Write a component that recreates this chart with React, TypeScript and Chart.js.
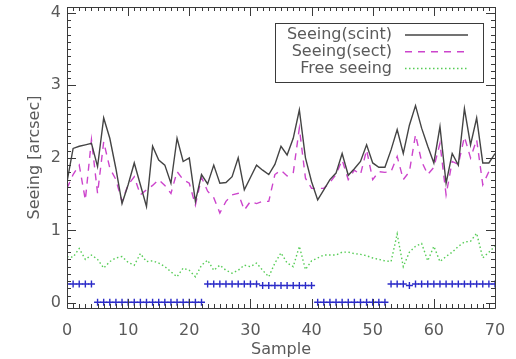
import React, { useEffect, useRef } from "react";
import { Chart, registerables } from "chart.js";

Chart.register(...registerables);

const sampleTicks = [0, 10, 20, 30, 40, 50, 60, 70];
const seeingTicks = [0, 1, 2, 3, 4];

const seeingScint = [
  1.67, 2.13, 2.16, 2.18, 2.2, 1.88, 2.55, 2.27, 1.85, 1.37,
  1.63, 1.93, 1.63, 1.33, 2.16, 1.97, 1.9, 1.65, 2.27, 1.95,
  2.0, 1.4, 1.77, 1.64, 1.9, 1.65, 1.66, 1.74, 2.0, 1.56,
  1.73, 1.9, 1.83, 1.77, 1.91, 2.16, 2.04, 2.27, 2.66, 2.0,
  1.67, 1.42, 1.56, 1.7, 1.79, 2.06, 1.76, 1.85, 1.95, 2.18,
  1.93, 1.87, 1.87, 2.11, 2.39, 2.06, 2.45, 2.72, 2.41, 2.16,
  1.93, 2.43, 1.65, 2.06, 1.9, 2.68, 2.18, 2.55, 1.93, 1.93,
  2.06,
];

const seeingSect = [
  1.58, 1.77, 1.9, 1.42, 2.25, 1.51, 2.22, 1.86, 1.7, 1.4,
  1.63, 1.74, 1.49, 1.56, 1.62, 1.7, 1.62, 1.51, 1.81, 1.7,
  1.65, 1.35, 1.73, 1.54, 1.45, 1.24, 1.4, 1.49, 1.51, 1.28,
  1.4, 1.37, 1.4, 1.4, 1.77, 1.83, 1.75, 1.79, 2.41, 1.72,
  1.58, 1.58, 1.58, 1.66, 1.77, 1.97, 1.7, 1.83, 1.77, 2.11,
  1.7, 1.81, 1.8, 1.81, 2.02, 1.7, 1.81, 2.32, 1.95, 1.77,
  1.87, 2.2, 1.49, 1.95, 1.91, 2.29, 2.0, 2.25, 1.63, 1.81,
  1.81,
];

const freeSeeing = [
  0.64, 0.63, 0.75, 0.6, 0.66, 0.6, 0.48, 0.57, 0.62, 0.64,
  0.56, 0.52, 0.68, 0.57, 0.58, 0.55, 0.5, 0.43, 0.36, 0.48,
  0.45, 0.36, 0.52, 0.59, 0.45, 0.52, 0.45, 0.41, 0.45, 0.52,
  0.5, 0.55, 0.45, 0.36, 0.55, 0.69, 0.55, 0.5, 0.78, 0.46,
  0.58, 0.62, 0.66, 0.66, 0.66, 0.7, 0.7, 0.68, 0.67, 0.65,
  0.62, 0.6, 0.58, 0.57, 0.95, 0.5, 0.7, 0.78, 0.82, 0.58,
  0.78, 0.57, 0.64, 0.7, 0.78, 0.84, 0.85, 0.96, 0.62, 0.7,
  0.78,
];

const flagLevel = [
  0.26, 0.26, 0.26, 0.26, 0.26, 0.01, 0.01, 0.01, 0.01, 0.01,
  0.01, 0.01, 0.01, 0.01, 0.01, 0.01, 0.01, 0.01, 0.01, 0.01,
  0.01, 0.01, 0.01, 0.26, 0.26, 0.26, 0.26, 0.26, 0.26, 0.26,
  0.26, 0.26, 0.24, 0.24, 0.24, 0.24, 0.24, 0.24, 0.24, 0.24,
  0.24, 0.01, 0.01, 0.01, 0.01, 0.01, 0.01, 0.01, 0.01, 0.01,
  0.01, 0.01, 0.01, 0.26, 0.26, 0.26, 0.24, 0.26, 0.26, 0.26,
  0.26, 0.26, 0.26, 0.26, 0.26, 0.26, 0.26, 0.26, 0.26, 0.26,
  0.26,
];

const legendLabels = ["Seeing(scint)", "Seeing(sect)", "Free seeing"];

const FONT = "'DejaVu Sans', sans-serif";
const TEXT = "#5a5a5a";
const AXIS = "#3a3a3a";
const C_SCINT = "#444444";
const C_SECT = "#cc44cc";
const C_FREE = "#55cc55";
const C_FLAG = "#2b2bc8";

const toPoints = (arr: number[]) => arr.map((v, i) => ({ x: i, y: v }));

const boxTicksPlugin = {
  id: "boxTicks",
  afterDatasetsDraw(chart: any) {
    const { ctx, chartArea: a, scales } = chart;
    const xs = scales.x;
    const ys = scales.y;
    ctx.save();
    ctx.strokeStyle = AXIS;
    ctx.lineWidth = 1;
    ctx.beginPath();
    ctx.rect(Math.round(a.left) + 0.5, Math.round(a.top) + 0.5, Math.round(a.right - a.left), Math.round(a.bottom - a.top));
    ctx.stroke();
    ctx.beginPath();
    for (let v = 0; v <= 70; v += 1) {
      const px = Math.round(xs.getPixelForValue(v)) + 0.5;
      const len = v % 10 === 0 ? 9 : 4;
      ctx.moveTo(px, a.bottom);
      ctx.lineTo(px, a.bottom - len);
      ctx.moveTo(px, a.top);
      ctx.lineTo(px, a.top + len);
    }
    for (let k = 0; k <= 40; k += 1) {
      const v = k / 10;
      const py = Math.round(ys.getPixelForValue(v)) + 0.5;
      const len = k % 10 === 0 ? 9 : 4;
      ctx.moveTo(a.left, py);
      ctx.lineTo(a.left + len, py);
      ctx.moveTo(a.right, py);
      ctx.lineTo(a.right - len, py);
    }
    ctx.stroke();
    ctx.restore();
  },
};

const legendPlugin = {
  id: "idlLegend",
  afterDraw(chart: any) {
    const { ctx, chartArea: a } = chart;
    const bx = a.left + 208;
    const by = a.top + 16;
    const bw = 208;
    const bh = 59;
    ctx.save();
    ctx.strokeStyle = AXIS;
    ctx.lineWidth = 1;
    ctx.strokeRect(Math.round(bx) + 0.5, Math.round(by) + 0.5, bw, bh);
    ctx.font = `16px ${FONT}`;
    ctx.fillStyle = TEXT;
    ctx.textAlign = "right";
    ctx.textBaseline = "middle";
    const styles = [
      { c: C_SCINT, d: [] as number[], w: 1.5 },
      { c: C_SECT, d: [7, 6], w: 1.5 },
      { c: C_FREE, d: [1.5, 2.5], w: 1.5 },
    ];
    legendLabels.forEach((t, i) => {
      const y = by + 12 + i * 16.7;
      ctx.fillText(t, bx + 117, y);
      ctx.beginPath();
      ctx.strokeStyle = styles[i].c;
      ctx.lineWidth = styles[i].w;
      ctx.setLineDash(styles[i].d);
      ctx.moveTo(bx + 130, y);
      ctx.lineTo(bx + 193, y);
      ctx.stroke();
      ctx.setLineDash([]);
    });
    ctx.restore();
  },
};

const zeroPad = (s: any) => {
  s.paddingTop = 0;
  s.paddingBottom = 0;
  s.paddingLeft = 0;
  s.paddingRight = 0;
};

export default function App() {
  const ref = useRef<HTMLCanvasElement | null>(null);
  useEffect(() => {
    if (!ref.current) return;
    const chart = new Chart(ref.current, {
      type: "line",
      data: {
        datasets: [
          {
            label: legendLabels[0],
            data: toPoints(seeingScint),
            borderColor: C_SCINT,
            borderWidth: 1.4,
            pointRadius: 0,
            tension: 0,
          },
          {
            label: legendLabels[1],
            data: toPoints(seeingSect),
            borderColor: C_SECT,
            borderWidth: 1.4,
            borderDash: [7, 6],
            pointRadius: 0,
            tension: 0,
          },
          {
            label: legendLabels[2],
            data: toPoints(freeSeeing),
            borderColor: C_FREE,
            borderWidth: 1.4,
            borderDash: [1.5, 2.5],
            pointRadius: 0,
            tension: 0,
          },
          {
            label: "flag",
            data: toPoints(flagLevel),
            showLine: false,
            borderColor: C_FLAG,
            backgroundColor: C_FLAG,
            pointStyle: "cross",
            pointRadius: 3.5,
            pointBorderWidth: 1.4,
          },
        ],
      },
      options: {
        animation: false,
        responsive: false,
        layout: { padding: { top: 7, right: 21, left: 0, bottom: 0 } },
        plugins: { legend: { display: false }, tooltip: { enabled: false } },
        scales: {
          x: {
            type: "linear",
            min: 0,
            max: 70,
            afterBuildTicks: (s: any) => {
              s.ticks = sampleTicks.map((v) => ({ value: v }));
            },
            afterFit: (s: any) => {
              s.height = 51;
              zeroPad(s);
            },
            grid: { display: false, drawTicks: false },
            border: { display: false },
            ticks: {
              padding: 13,
              color: TEXT,
              font: { family: FONT, size: 16 },
              maxRotation: 0,
            },
            title: {
              display: true,
              text: "Sample",
              color: TEXT,
              font: { family: FONT, size: 16 },
              padding: { top: 0, bottom: 0 },
            },
          },
          y: {
            type: "linear",
            min: -0.07,
            max: 4.08,
            afterBuildTicks: (s: any) => {
              s.ticks = seeingTicks.map((v) => ({ value: v }));
            },
            afterFit: (s: any) => {
              s.width = 67;
              zeroPad(s);
            },
            grid: { display: false, drawTicks: false },
            border: { display: false },
            ticks: {
              padding: 6,
              color: TEXT,
              font: { family: FONT, size: 16 },
            },
            title: {
              display: true,
              text: "Seeing [arcsec]",
              color: TEXT,
              font: { family: FONT, size: 16 },
              padding: { top: 25, bottom: 0 },
            },
          },
        },
      },
      plugins: [boxTicksPlugin, legendPlugin],
    } as any);
    return () => chart.destroy();
  }, []);
  return (
    <div style={{ position: "absolute", left: 0, top: 0, width: 516, height: 359, background: "#fff" }}>
      <canvas ref={ref} width={516} height={359} style={{ width: 516, height: 359 }} />
    </div>
  );
}
